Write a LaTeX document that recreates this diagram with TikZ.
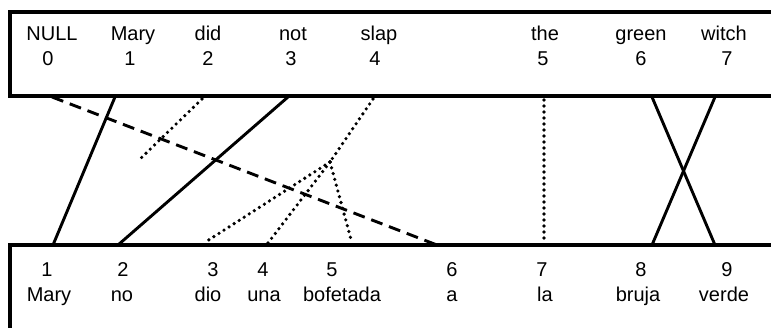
\documentclass[tikz,border=0pt]{standalone}
\usepackage{fontspec}
\setmainfont{Liberation Sans}
\begin{document}
\begin{tikzpicture}[x=1pt,y=-1pt,
  box/.style={line width=3.2pt},
  lbl/.style={anchor=base,inner sep=0pt,font=\fontsize{20}{20}\selectfont},
  solidlink/.style={line width=2.9pt},
  dashlink/.style={line width=2.9pt,dash pattern=on 12pt off 7pt},
  dotlink/.style={line width=3.6pt,line cap=round,dash pattern=on 0pt off 6pt}]
\useasboundingbox (0,0) rectangle (771,328);
\begin{scope}
\clip (0,0) rectangle (771,328);
\draw[box] (790,12) -- (10,12) -- (10,96) -- (790,96);
\draw[box] (790,245) -- (10,245) -- (10,340);
\end{scope}
% top words
\foreach \n/\w/\x/\nx in {e0/NULL/52/48, e1/Mary/133/130, e2/did/208/208, e3/not/293/291, e4/slap/379/375, e5/the/545/543, e6/green/641/641, e7/witch/724/727}{
  \node[lbl] (\n) at (\x,41) {\w};
  \node[lbl] (\n n) at (\nx,66) {};
}
\node[lbl] at (e0n) {0};
\node[lbl] at (e1n) {1};
\node[lbl] at (e2n) {2};
\node[lbl] at (e3n) {3};
\node[lbl] at (e4n) {4};
\node[lbl] at (e5n) {5};
\node[lbl] at (e6n) {6};
\node[lbl] at (e7n) {7};
% bottom words
\foreach \n/\w/\x/\nx/\k in {s1/Mary/49/47/1, s2/no/122/123/2, s3/dio/208/213/3, s4/una/264/263/4, s5/bofetada/342/332/5, s6/a/452/452/6, s7/la/545/542/7, s8/bruja/638/641/8, s9/verde/724/727/9}{
  \node[lbl] (\n n) at (\nx,277) {\k};
  \node[lbl] (\n) at (\x,302) {\w};
}
% anchor points on box edges
\coordinate (t0) at (52,97);
\coordinate (t1) at (115,97);
\coordinate (t2) at (202,99);
\coordinate (t3) at (288,97);
\coordinate (t4) at (373,99);
\coordinate (t5) at (544,100);
\coordinate (t6) at (652,97);
\coordinate (t7) at (715,97);
\coordinate (b1) at (53,245);
\coordinate (b2) at (118,245);
\coordinate (b3) at (204,243);
\coordinate (b4) at (268,243);
\coordinate (b5) at (352,243);
\coordinate (b6) at (437,245);
\coordinate (b7) at (544,243);
\coordinate (b8) at (652,245);
\coordinate (b9) at (715,245);
\coordinate (didend) at (138,161);
\coordinate (J) at (330,162);
% links
\draw[solidlink] (t1) -- (b1);
\draw[solidlink] (t3) -- (b2);
\draw[solidlink] (t6) -- (b9);
\draw[solidlink] (t7) -- (b8);
\draw[dashlink] (t0) -- (b6);
\draw[dotlink] (t2) -- (didend);
\draw[dotlink] (t4) -- (J);
\draw[dotlink] (J) -- (b3);
\draw[dotlink] (J) -- (b4);
\draw[dotlink] (J) -- (b5);
\draw[dotlink] (t5) -- (b7);
\end{tikzpicture}
\end{document}
